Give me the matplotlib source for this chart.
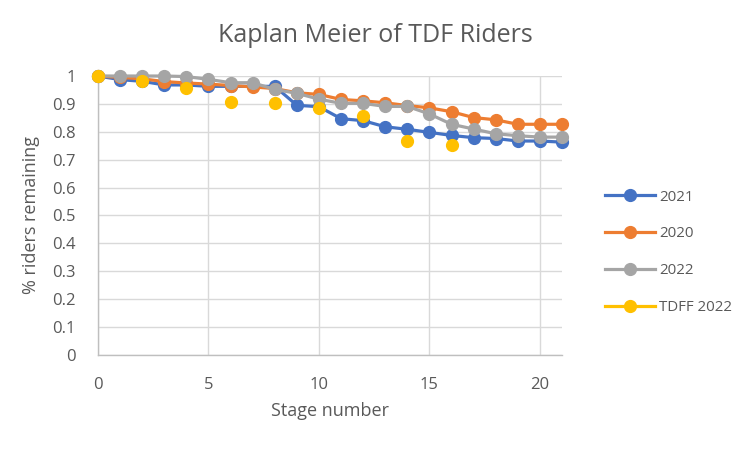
import matplotlib
matplotlib.use("Agg")
import matplotlib.pyplot as plt
import numpy as np

plt.rcParams["font.family"] = ["Open Sans", "DejaVu Sans"]

stages = list(range(22))
riders_2021 = [1.0, 0.987, 0.981, 0.968, 0.968, 0.963, 0.963, 0.963, 0.963, 0.895, 0.890,
               0.847, 0.840, 0.818, 0.809, 0.798, 0.787, 0.779, 0.776, 0.767, 0.767, 0.763]
riders_2020 = [1.0, 0.995, 0.990, 0.980, 0.975, 0.971, 0.966, 0.961, 0.955, 0.940, 0.934,
               0.916, 0.911, 0.904, 0.894, 0.886, 0.872, 0.851, 0.843, 0.827, 0.827, 0.827]
riders_2022 = [1.0, 1.0, 1.0, 1.0, 0.998, 0.988, 0.976, 0.976, 0.952, 0.938, 0.917,
               0.902, 0.902, 0.891, 0.891, 0.864, 0.827, 0.810, 0.793, 0.786, 0.781, 0.781]
# TDFF only has even stages recorded -> gaps
riders_tdff = [1.0, np.nan, 0.983, np.nan, 0.957, np.nan, 0.908, np.nan, 0.902, np.nan, 0.886,
               np.nan, 0.857, np.nan, 0.768, np.nan, 0.754, np.nan, np.nan, np.nan, np.nan, np.nan]

series = [
    ("2021", riders_2021, "#4472C4"),
    ("2020", riders_2020, "#ED7D31"),
    ("2022", riders_2022, "#A5A5A5"),
    ("TDFF 2022", riders_tdff, "#FFC000"),
]

text_col = "#595959"
grid_col = "#D9D9D9"

fig = plt.figure(figsize=(7.5, 4.49), dpi=100)
ax = fig.add_axes([0.1307, 0.2094, 0.6186, 0.6213])

for name, vals, col in series:
    ax.plot(stages, vals, color=col, lw=2.3, marker="o", ms=8.5,
            label=name, clip_on=False, zorder=3)

ax.set_xlim(0, 21)
ax.set_ylim(0, 1)
ax.set_xticks([0, 5, 10, 15, 20])
ax.set_yticks(np.arange(0, 1.01, 0.1))
ax.set_yticklabels(["0"] + [f"{v:.1f}" for v in np.arange(0.1, 0.95, 0.1)] + ["1"])
ax.grid(True, color=grid_col, lw=1)
ax.set_axisbelow(True)
for s in ["top", "right"]:
    ax.spines[s].set_visible(False)
for s in ["left", "bottom"]:
    ax.spines[s].set_color("#BFBFBF")
    ax.spines[s].set_linewidth(1)
ax.tick_params(length=0, colors=text_col, labelsize=12)
ax.tick_params(axis="x", pad=16)
ax.tick_params(axis="y", pad=16)

fig.text(0.5, 0.922, "Kaplan Meier of TDF Riders", fontsize=18, color=text_col,
         ha="center", va="center")
ax.set_xlabel("Stage number", fontsize=13, color=text_col, labelpad=6)
ax.set_ylabel("% riders remaining", fontsize=13, color=text_col, labelpad=9)

leg = fig.legend(loc="center left", bbox_to_anchor=(0.789, 0.438), frameon=False,
                 fontsize=10.8, handlelength=3.3, labelspacing=1.45, handletextpad=0.3)
for t in leg.get_texts():
    t.set_color(text_col)

fig.savefig("out.png", dpi=100)
